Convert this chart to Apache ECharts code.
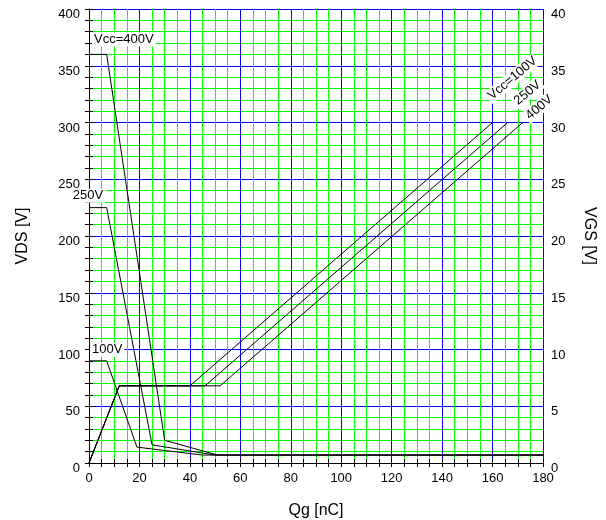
<!DOCTYPE html>
<html>
<head>
<meta charset="utf-8">
<script src="https://cdn.jsdelivr.net/npm/echarts@6/dist/echarts.min.js"></script>
<style>
  html, body { margin: 0; padding: 0; background: #fff; }
  #chart { width: 606px; height: 520px; }
</style>
</head>
<body>
<div id="chart"></div>
<script>
// VDS curves (left axis), Qg in nC
const qgVds100 = [0, 7, 19, 45, 180]
const vds100 = [90, 90, 14, 7, 7]
const qgVds250 = [0, 7, 25, 50, 180]
const vds250 = [225, 225, 16, 7, 7]
const qgVds400 = [0, 7, 30, 51, 180]
const vds400 = [360, 360, 20, 7, 7]

// VGS curves (right axis)
const qgVgs100 = [0, 12, 40, 160]
const vgs100 = [0, 6.8, 6.8, 30]
const qgVgs250 = [0, 12, 46, 166]
const vgs250 = [0, 6.8, 6.8, 30]
const qgVgs400 = [0, 12, 52, 172]
const vgs400 = [0, 6.8, 6.8, 30]

const vdsNames = ['Vcc=400V', '250V', '100V']
const vgsNames = ['Vcc=100V', '250V', '400V']

const FONT = 'Liberation Sans, Arial, sans-serif'
const GREEN = '#00ff00'
const BLUE = '#0000ff'

function pts(xs, ys) {
  return xs.map((x, i) => [x, ys[i]])
}

// put a text label on one point of a curve
function withLabel(data, idx, label) {
  let out = data.slice()
  out[idx] = {
    value: data[idx],
    symbol: 'circle',
    symbolSize: 0.01,
    label: Object.assign({
      show: true,
      position: 'inside',
      color: '#000',
      fontFamily: FONT,
      fontSize: 13,
      backgroundColor: '#fff',
      padding: [1, 2, 0, 2],
    }, label),
  }
  return out
}

function curve(data, yIndex) {
  return {
    type: 'line',
    data: data,
    xAxisIndex: 0,
    yAxisIndex: yIndex,
    symbol: 'none',
    showSymbol: true,
    lineStyle: { color: '#000', width: 1 },
    itemStyle: { color: '#000' },
    emphasis: { disabled: true },
    z: 3,
  }
}

const tickStyle = { show: true, inside: true, length: 4, lineStyle: { color: '#000' } }
const labelStyle = { color: '#000', fontFamily: FONT, fontSize: 13 }
const nameStyle = { color: '#000', fontFamily: FONT, fontSize: 16 }
const noLines = { splitLine: { show: false }, minorSplitLine: { show: false }, splitArea: { show: false } }

let option = {
  animation: false,
  backgroundColor: '#fff',
  grid: { left: 89, right: 63, top: 9, bottom: 57, containLabel: false, outerBoundsMode: 'none' },
  xAxis: [
    {
      type: 'value', min: 0, max: 180, interval: 20, position: 'bottom',
      name: 'Qg [nC]', nameLocation: 'middle', nameGap: 40, nameTextStyle: nameStyle,
      axisLine: { show: true, lineStyle: { color: '#000' } },
      axisTick: tickStyle,
      minorTick: { show: true, splitNumber: 4, length: 4, lineStyle: { color: '#000' } },
      axisLabel: Object.assign({ margin: 9 }, labelStyle),
      splitLine: { show: true, lineStyle: { color: BLUE, width: 1 } },
      minorSplitLine: { show: true, lineStyle: { color: GREEN, width: 1 } },
    },
    Object.assign({
      type: 'value', min: 0, max: 180, interval: 20, position: 'top',
      axisLine: { show: true, lineStyle: { color: '#000' } },
      axisTick: tickStyle,
      minorTick: { show: true, splitNumber: 4, length: 4, lineStyle: { color: '#000' } },
      axisLabel: { show: false },
    }, noLines),
  ],
  yAxis: [
    {
      type: 'value', min: 0, max: 400, interval: 50, position: 'left',
      name: 'VDS [V]', nameLocation: 'middle', nameGap: 58, nameRotate: 90, nameTextStyle: nameStyle,
      axisLine: { show: true, lineStyle: { color: '#000' } },
      axisTick: tickStyle,
      minorTick: { show: true, splitNumber: 5, length: 4, lineStyle: { color: '#000' } },
      axisLabel: Object.assign({ margin: 9, verticalAlign: 'top', lineHeight: 11 }, labelStyle),
      splitLine: { show: true, lineStyle: { color: BLUE, width: 1 } },
      minorSplitLine: { show: true, lineStyle: { color: GREEN, width: 1 } },
    },
    Object.assign({
      type: 'value', min: 0, max: 40, interval: 5, position: 'right',
      name: 'VGS [V]', nameLocation: 'middle', nameGap: 38, nameRotate: -90, nameTextStyle: nameStyle,
      axisLine: { show: true, lineStyle: { color: '#000' } },
      axisTick: tickStyle,
      minorTick: { show: true, splitNumber: 5, length: 4, lineStyle: { color: '#000' } },
      axisLabel: Object.assign({ margin: 8, verticalAlign: 'top', lineHeight: 11 }, labelStyle),
    }, noLines),
  ],
  series: [
    curve(withLabel(pts(qgVds400, vds400), 0, {
      formatter: vdsNames[0], align: 'left', verticalAlign: 'middle', offset: [3, -15],
    }), 0),
    curve(withLabel(pts(qgVds250, vds250), 0, {
      formatter: vdsNames[1], align: 'center', verticalAlign: 'middle', offset: [-1, -12],
    }), 0),
    curve(withLabel(pts(qgVds100, vds100), 0, {
      formatter: vdsNames[2], align: 'left', verticalAlign: 'middle', offset: [1, -11],
    }), 0),
    curve(withLabel(pts(qgVgs100, vgs100), qgVgs100.length - 1, {
      formatter: vgsNames[0], align: 'left', verticalAlign: 'middle', rotate: 40, offset: [12, -21],
    }), 1),
    curve(withLabel(pts(qgVgs250, vgs250), qgVgs250.length - 1, {
      formatter: vgsNames[1], align: 'left', verticalAlign: 'middle', rotate: 40, offset: [17, -10],
    }), 1),
    curve(withLabel(pts(qgVgs400, vgs400), qgVgs400.length - 1, {
      formatter: vgsNames[2], align: 'left', verticalAlign: 'middle', rotate: 40, offset: [5, -1],
    }), 1),
  ],
}

let chart = echarts.init(document.getElementById('chart'))
chart.setOption(option)
</script>
</body>
</html>
